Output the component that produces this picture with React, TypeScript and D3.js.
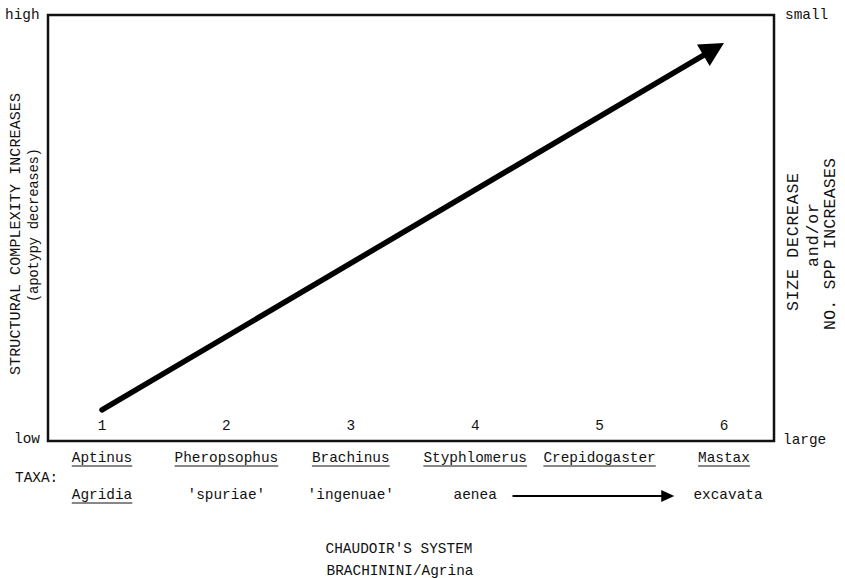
import React from "react";
import * as d3 from "d3";

const positions = [1, 2, 3, 4, 5, 6];
const positionLabels = ["1", "2", "3", "4", "5", "6"];
const genera = ["Aptinus", "Pheropsophus", "Brachinus", "Styphlomerus", "Crepidogaster", "Mastax"];
const subgroups = ["Agridia", "'spuriae'", "'ingenuae'", "aenea", "", "excavata"];
const subgroupUnderlined = [true, false, false, false, false, false];
// main trend arrow: [position, relative level 0..1]
const trendStart = [1, 0.073];
const trendEnd = [6, 0.934];
// small arrow between aenea and excavata (in position units)
const seriesArrow = [4.3, 5.6];
const leftTop = "high";
const leftBottom = "low";
const rightTop = "small";
const rightBottom = "large";
const leftTitle = ["STRUCTURAL COMPLEXITY INCREASES", "(apotypy decreases)"];
const rightTitle = ["SIZE DECREASE", "and/or", "NO. SPP INCREASES"];
const bottomTitle = ["CHAUDOIR'S SYSTEM", "BRACHININI/Agrina"];

const W = 845;
const H = 578;
const FONT = "'Liberation Mono', 'DejaVu Sans Mono', monospace";
const FS = 14.4;
const CW = FS * 0.6;

export default function App() {
  const x = d3.scaleLinear().domain([1, 6]).range([102, 724]);
  const y = d3.scaleLinear().domain([0, 1]).range([441, 15]);
  const frameL = 48, frameR = 774, frameT = y(1), frameB = y(0);

  const x0 = x(trendStart[0]), y0 = y(trendStart[1]);
  const x1 = x(trendEnd[0]), y1 = y(trendEnd[1]);
  const ang = Math.atan2(y1 - y0, x1 - x0);
  const headLen = 24, headHalf = 12.5;
  const bx = x1 - headLen * Math.cos(ang), by = y1 - headLen * Math.sin(ang);
  const nx = -Math.sin(ang), ny = Math.cos(ang);
  const head = [
    [x1, y1],
    [bx + nx * headHalf, by + ny * headHalf],
    [bx - nx * headHalf, by - ny * headHalf],
  ];
  const line = d3.line();

  const ax0 = x(seriesArrow[0]), ax1 = x(seriesArrow[1]);
  const ay = 496;

  return (
    <svg width={W} height={H} style={{ position: "absolute", left: 0, top: 0, background: "#fff" }}
      fontFamily={FONT} fontSize={FS} fill="#111">
      <rect width={W} height={H} fill="#fff" />
      {/* frame */}
      <path d={`M${frameL},${frameB}L${frameL},${frameT}L${frameR},${frameT}L${frameR},${frameB}Z`}
        fill="none" stroke="#111" strokeWidth={2.5} />
      {/* trend arrow */}
      <path d={line([[x0, y0], [bx + Math.cos(ang) * 2, by + Math.sin(ang) * 2]]) || ""}
        stroke="#000" strokeWidth={5.5} strokeLinecap="round" fill="none" />
      <path d={(line(head as [number, number][]) || "") + "Z"} fill="#000" />
      {/* corner labels */}
      <text x={5} y={19}>{leftTop}</text>
      <text x={14} y={443}>{leftBottom}</text>
      <text x={785} y={19}>{rightTop}</text>
      <text x={783} y={444}>{rightBottom}</text>
      {/* position numbers */}
      {positions.map((p, i) => (
        <text key={"n" + i} x={x(p)} y={430} textAnchor="middle">{positionLabels[i]}</text>
      ))}
      {/* genera */}
      {genera.map((g, i) => {
        const w = g.length * CW;
        const cx = x(positions[i]);
        return (
          <g key={"g" + i}>
            <text x={cx} y={462} textAnchor="middle">{g}</text>
            <line x1={cx - w / 2} x2={cx + w / 2} y1={466} y2={466} stroke="#111" strokeWidth={1.2} />
          </g>
        );
      })}
      <text x={15} y={482}>TAXA:</text>
      {/* subgroups */}
      {subgroups.map((s, i) => {
        if (!s) return null;
        const w = s.length * CW;
        const cx = x(positions[i]) + (i === 5 ? 4 : 0);
        return (
          <g key={"s" + i}>
            <text x={cx} y={499} textAnchor="middle">{s}</text>
            {subgroupUnderlined[i] && (
              <line x1={cx - w / 2} x2={cx + w / 2} y1={503} y2={503} stroke="#111" strokeWidth={1.2} />
            )}
          </g>
        );
      })}
      <line x1={ax0} x2={ax1 - 10} y1={ay} y2={ay} stroke="#000" strokeWidth={2} />
      <path d={`M${ax1},${ay}L${ax1 - 13},${ay - 6}L${ax1 - 13},${ay + 6}Z`} fill="#000" />
      {/* left title */}
      <text transform={`translate(20,234) rotate(-90)`} textAnchor="middle" fontSize={15}
        textLength={282} lengthAdjust="spacing">{leftTitle[0]}</text>
      <text transform={`translate(38,225) rotate(-90)`} textAnchor="middle" fontSize={14}
        textLength={154} lengthAdjust="spacing">{leftTitle[1]}</text>
      {/* right title */}
      <text transform={`translate(798,242) rotate(-90)`} textAnchor="middle" fontSize={16.5}
        textLength={138} lengthAdjust="spacing">{rightTitle[0]}</text>
      <text transform={`translate(818,235) rotate(-90)`} textAnchor="middle" fontSize={16.5}
        textLength={64} lengthAdjust="spacing">{rightTitle[1]}</text>
      <text transform={`translate(835,244) rotate(-90)`} textAnchor="middle" fontSize={16.5}
        textLength={172} lengthAdjust="spacing">{rightTitle[2]}</text>
      {/* bottom titles */}
      <text x={399} y={553} textAnchor="middle">{bottomTitle[0]}</text>
      <text x={400} y={575} textAnchor="middle">{bottomTitle[1]}</text>
    </svg>
  );
}
